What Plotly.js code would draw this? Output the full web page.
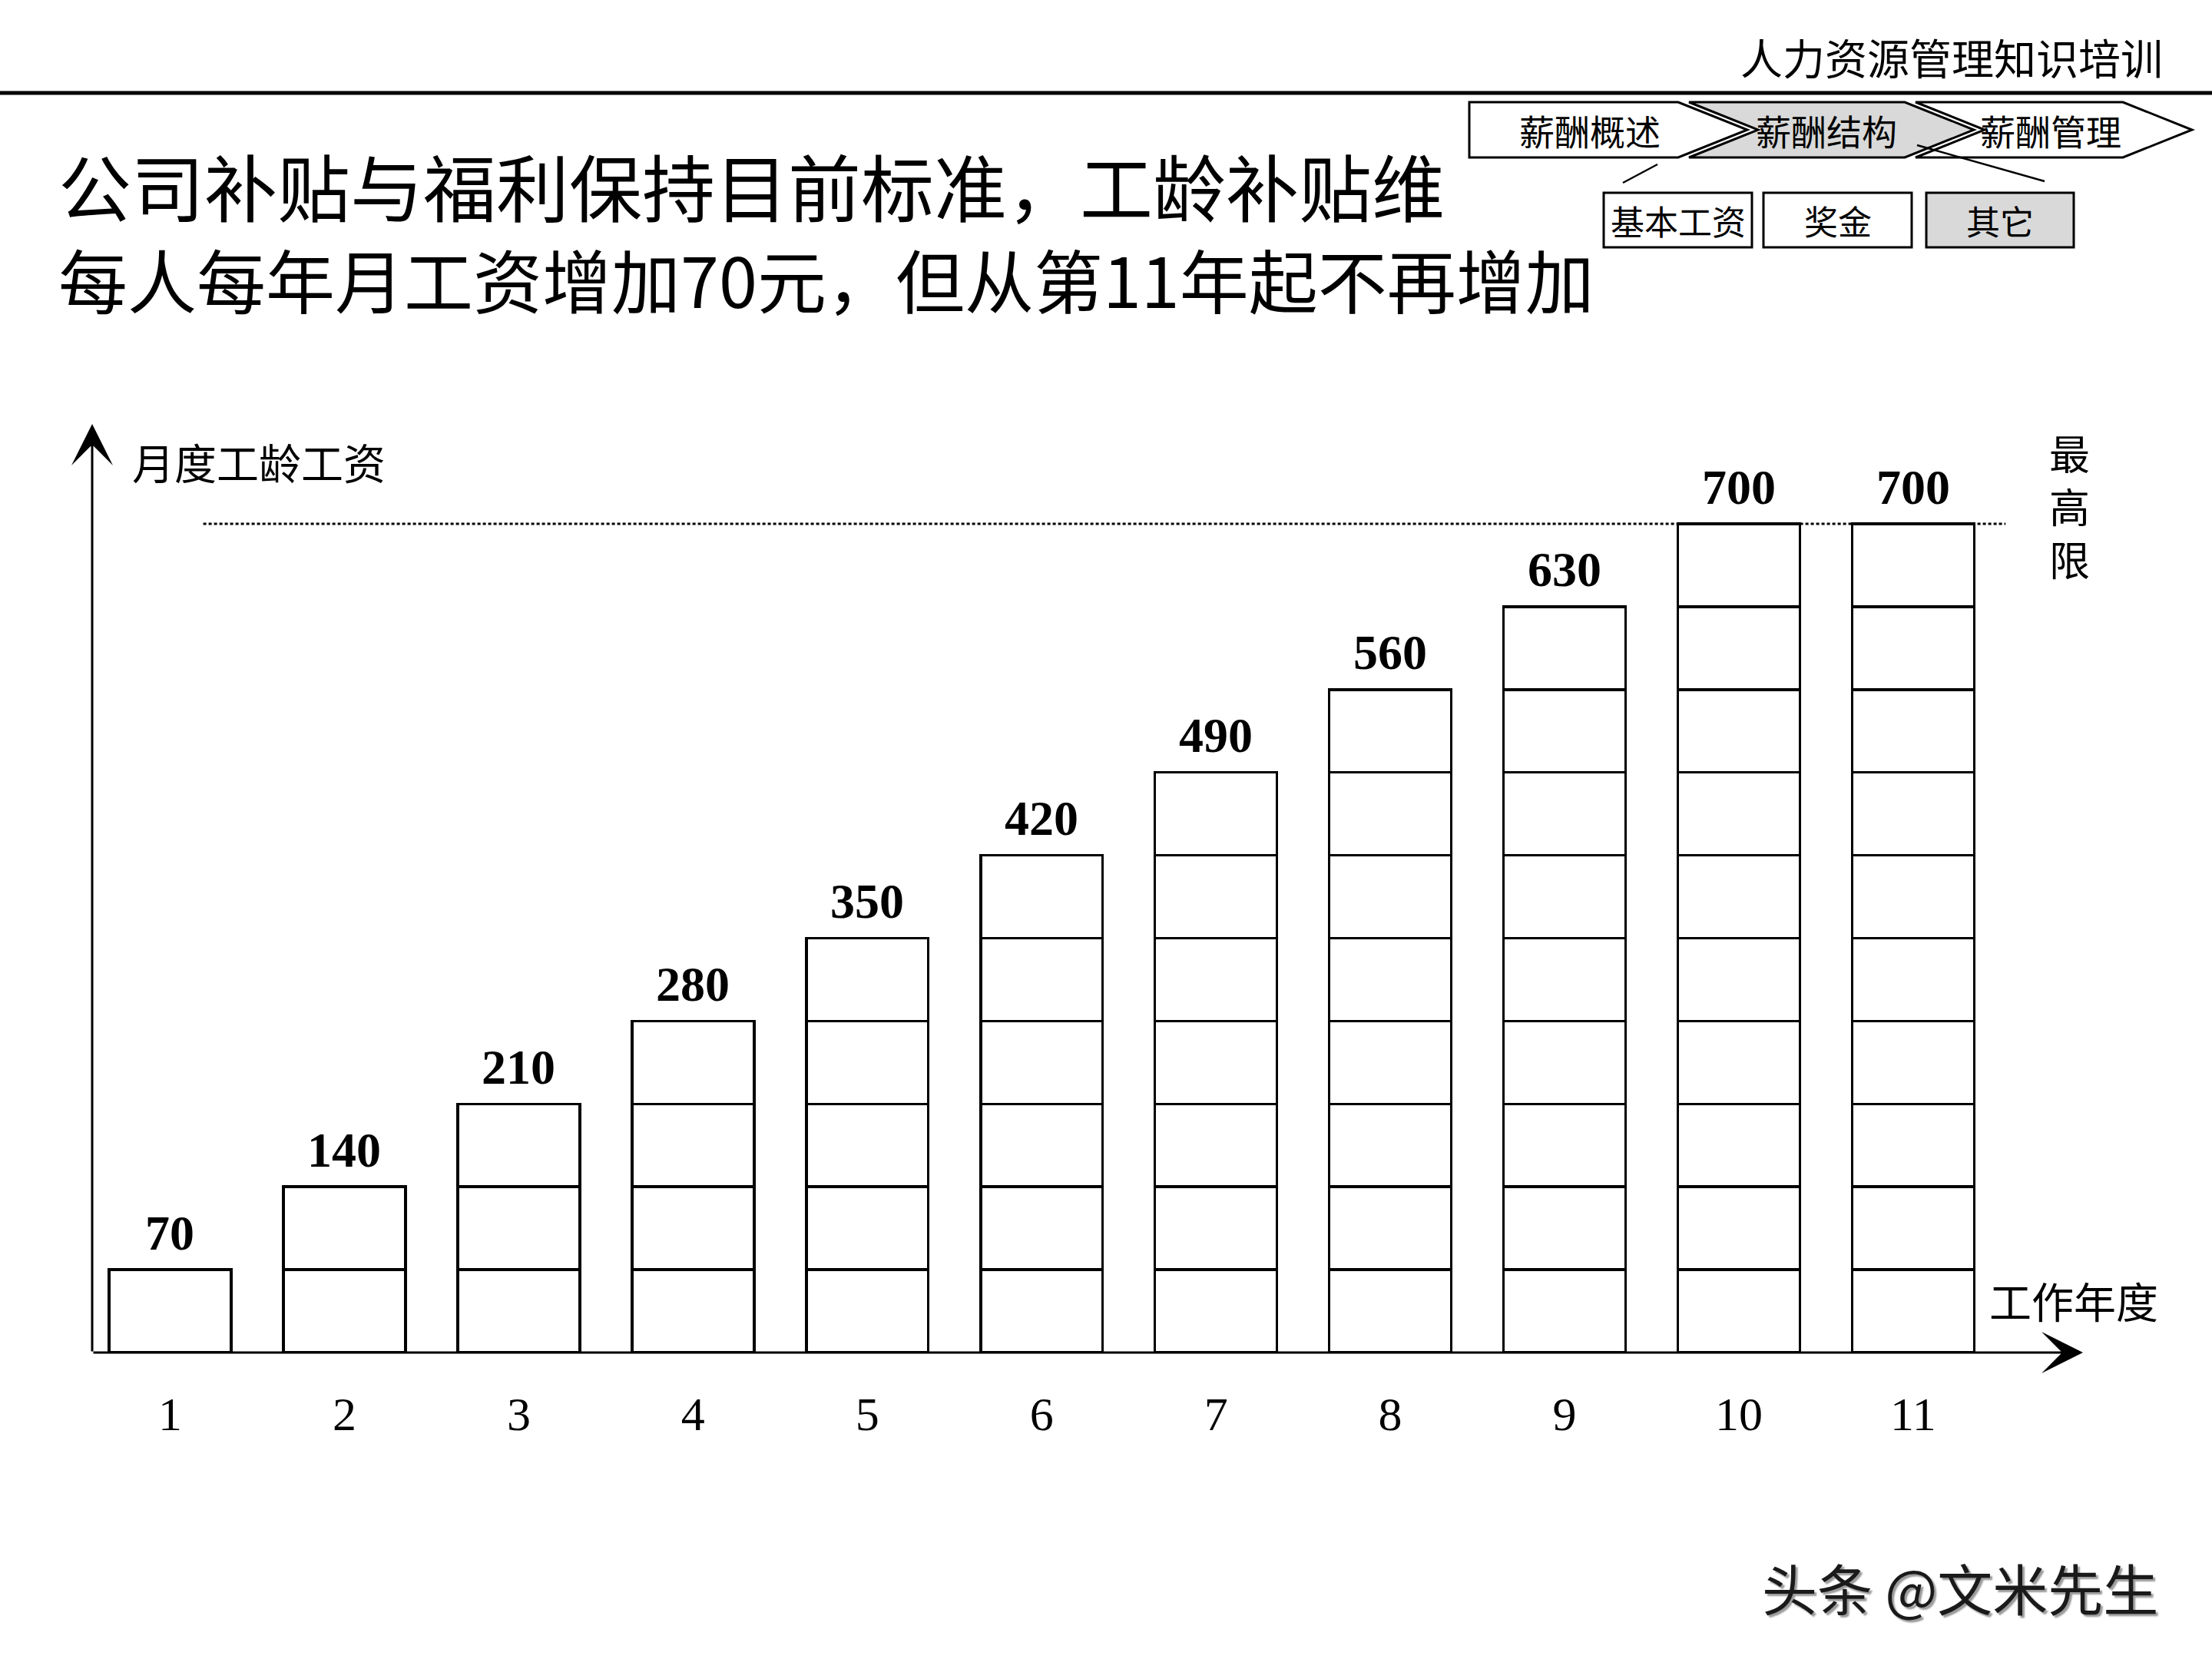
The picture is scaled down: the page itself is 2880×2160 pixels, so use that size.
<!DOCTYPE html>
<html>
<head>
<meta charset="utf-8">
<script src="https://cdn.plot.ly/plotly-3.0.1.min.js"></script>
<style>
html,body{margin:0;padding:0;background:#fff}
#chart{width:2880px;height:2160px}
</style>
</head>
<body>
<div id="chart"></div>
<script>
// ---------- data ----------
const years = [1, 2, 3, 4, 5, 6, 7, 8, 9, 10, 11];
const yearLabels = ['1', '2', '3', '4', '5', '6', '7', '8', '9', '10', '11'];
const allowance = [70, 140, 210, 280, 350, 420, 490, 560, 630, 700, 700];
const stepIncrease = 70;
const capValue = 700;

const headerText = '人力资源管理知识培训';
const titleLines = ['公司补贴与福利保持目前标准，工龄补贴维', '每人每年月工资增加70元，但从第11年起不再增加'];
const yAxisLabel = '月度工龄工资';
const xAxisLabel = '工作年度';
const capLabel = '最高限';
const navMain = ['薪酬概述', '薪酬结构', '薪酬管理'];
const navSub = ['基本工资', '奖金', '其它'];
const watermark = '头条 @文米先生';

// ---------- geometry helpers (pixel -> paper) ----------
const W = 2880, H = 2160;
const PL = 120, PR = 2712, PT = 552, PB = 1761;
const px = x => (x - PL) / (PR - PL);
const py = y => (PB - y) / (PB - PT);
const CJK = '"Noto Sans CJK SC", "Noto Sans", sans-serif';
const SERIF = '"Liberation Serif", "Times New Roman", serif';

// ---------- stacked unit boxes ----------
const nLevels = Math.round(Math.max(...allowance) / stepIncrease);
const traces = [];
for (let k = 1; k <= nLevels; k++) {
  traces.push({
    type: 'bar',
    x: years,
    y: allowance.map(v => (v >= k * stepIncrease ? stepIncrease : null)),
    width: 0.7,
    marker: { color: '#ffffff', line: { color: '#000000', width: 3.5 } },
    hoverinfo: 'skip',
    showlegend: false
  });
}

// ---------- annotations ----------
const annotations = [];
allowance.forEach((v, i) => {
  annotations.push({
    x: years[i], y: v, xref: 'x', yref: 'y',
    text: String(v), showarrow: false, yshift: 48,
    xanchor: 'center', yanchor: 'middle',
    font: { family: SERIF, size: 64, color: '#000', weight: 700 }
  });
});

// axis arrows
annotations.push({
  x: 0, y: 1, xref: 'paper', yref: 'paper', axref: 'pixel', ayref: 'pixel',
  ax: 0, ay: PB - PT, text: '', showarrow: true,
  arrowhead: 3, arrowsize: 3, arrowwidth: 3, arrowcolor: '#000', standoff: 0, startstandoff: 0
});
annotations.push({
  x: 1, y: 0, xref: 'paper', yref: 'paper', axref: 'pixel', ayref: 'pixel',
  ax: -(PR - PL), ay: 0, text: '', showarrow: true,
  arrowhead: 3, arrowsize: 3, arrowwidth: 3, arrowcolor: '#000', standoff: 0, startstandoff: 0
});

function txt(text, x, y, size, xanchor, extra) {
  return Object.assign({
    x: px(x), y: py(y), xref: 'paper', yref: 'paper', text: text, showarrow: false,
    xanchor: xanchor || 'center', yanchor: 'middle',
    font: { family: CJK, size: size, color: '#000' }
  }, extra || {});
}

// slide title (two lines)
annotations.push(txt(titleLines[0], 74, 240, 95, 'left'));
annotations.push(txt(titleLines[1], 74, 362, 90, 'left'));

annotations.push(txt(headerText, 2818, 73, 55, 'right'));
annotations.push(txt(yAxisLabel, 170, 600, 55, 'left'));
annotations.push(txt(xAxisLabel, 2588, 1692, 55, 'left'));
annotations.push(txt(capLabel.split('').join('<br>'), 2694, 658, 53, 'center'));
annotations.push(txt(watermark, 2292, 2065, 72, 'left', {
  font: { family: CJK, size: 72, color: '#1a1a1a', shadow: '3px 3px 2px #9a9a9a' }
}));

// navigation chevrons
const navL = [1913, 2199, 2494], navC = [2185, 2480, 2764];
const navD = 90, navTop = 133, navBot = 205, navMid = 169;
const navFill = ['#ffffff', '#d9d9d9', '#ffffff'];
const navTextX = [2070, 2378, 2670];
const shapes = [];
navMain.forEach((label, i) => {
  const L = navL[i], C = navC[i];
  let p = `M${px(L)},${py(navTop)} L${px(C)},${py(navTop)} L${px(C + navD)},${py(navMid)} L${px(C)},${py(navBot)} L${px(L)},${py(navBot)}`;
  if (i > 0) p += ` L${px(L + navD)},${py(navMid)}`;
  p += ' Z';
  shapes.push({ type: 'path', xref: 'paper', yref: 'paper', path: p,
    fillcolor: navFill[i], line: { color: '#000', width: 3 }, layer: 'above' });
  annotations.push(txt(label, navTextX[i], navMid, 46, 'center'));
});

// sub boxes
const subL = [2088, 2296, 2508], subR = [2281, 2489, 2700];
const subFill = ['#ffffff', '#ffffff', '#d9d9d9'];
navSub.forEach((label, i) => {
  shapes.push({ type: 'rect', xref: 'paper', yref: 'paper',
    x0: px(subL[i]), x1: px(subR[i]), y0: py(251), y1: py(322),
    fillcolor: subFill[i], line: { color: '#000', width: 3 }, layer: 'above' });
  annotations.push(txt(label, (subL[i] + subR[i]) / 2, 287, 44, 'center'));
});

// connector lines
shapes.push({ type: 'line', xref: 'paper', yref: 'paper',
  x0: px(2158), y0: py(214), x1: px(2113), y1: py(238), line: { color: '#000', width: 2.5 } });
shapes.push({ type: 'line', xref: 'paper', yref: 'paper',
  x0: px(2496), y0: py(189), x1: px(2662), y1: py(236), line: { color: '#000', width: 2.5 } });

// header rule
shapes.push({ type: 'line', xref: 'paper', yref: 'paper',
  x0: px(0), x1: px(W), y0: py(121), y1: py(121), line: { color: '#000', width: 5 } });

// cap (maximum) dotted line
shapes.push({ type: 'line', xref: 'x', yref: 'y',
  x0: 1.19, x1: 11.53, y0: capValue, y1: capValue,
  line: { color: '#000', width: 3, dash: '4px,3px' }, layer: 'below' });

// ---------- layout ----------
const layout = {
  width: W, height: H,
  paper_bgcolor: '#ffffff', plot_bgcolor: 'rgba(0,0,0,0)',
  margin: { l: PL, r: W - PR, t: PT, b: H - PB, pad: 0 },
  barmode: 'stack',
  bargap: 0,
  showlegend: false,
  xaxis: {
    range: [0.5528, 11.974], tickvals: years, ticktext: yearLabels,
    tickfont: { family: SERIF, size: 62, color: '#000' },
    showgrid: false, zeroline: false, showline: false, ticks: '',
    ticklabelstandoff: 38, automargin: false, fixedrange: true
  },
  yaxis: {
    range: [0, (PB - PT) / ((PB - 682) / capValue)],
    showgrid: false, zeroline: false, showline: false, showticklabels: false,
    ticks: '', automargin: false, fixedrange: true
  },
  shapes: shapes,
  annotations: annotations
};

Plotly.newPlot('chart', traces, layout, { displayModeBar: false, staticPlot: true });
</script>
</body>
</html>
